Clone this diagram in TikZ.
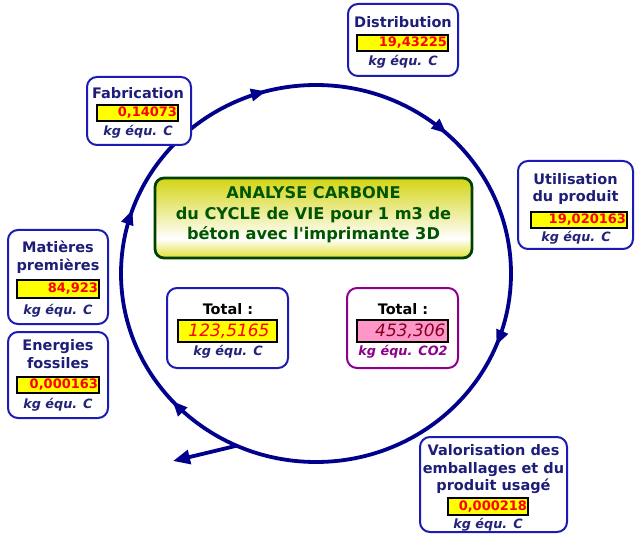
\documentclass[tikz,border=0pt]{standalone}
\usepackage{fontspec}
\setmainfont{DejaVu Sans}
\usetikzlibrary{arrows.meta,decorations.markings,calc}
\definecolor{panelblue}{RGB}{28,28,180}
\definecolor{titlenavy}{RGB}{30,30,120}
\definecolor{circnavy}{RGB}{0,0,140}
\definecolor{kgnavy}{RGB}{35,35,120}
\definecolor{valred}{RGB}{255,0,0}
\definecolor{valyellow}{RGB}{255,255,0}
\definecolor{purp}{RGB}{140,0,140}
\definecolor{pinkfill}{RGB}{255,150,200}
\definecolor{co2red}{RGB}{130,0,30}
\definecolor{dgreen}{RGB}{0,65,0}
\definecolor{tgreen}{RGB}{0,85,0}
\definecolor{ytop}{RGB}{212,212,20}
\definecolor{ybot}{RGB}{225,225,50}
\pgfdeclareverticalshading{cboxshade}{100bp}{color(0bp)=(ybot); color(25bp)=(ybot); color(37bp)=(white); color(75bp)=(ytop); color(100bp)=(ytop)}
\tikzset{
  panel/.style={draw=panelblue, line width=2pt, rounded corners=10pt, fill=white, inner sep=0pt},
  ppanel/.style={panel, draw=purp},
  ptitle/.style={font=\bfseries\fontsize{14.5}{17.5}\selectfont, text=titlenavy, align=center, inner sep=0pt},
  tottitle/.style={font=\bfseries\fontsize{14.5}{16}\selectfont, text=black, inner sep=0pt},
  valbox/.style={draw=black, line width=1.4pt, fill=valyellow, inner sep=0pt},
  pinkbox/.style={valbox, fill=pinkfill},
  valtext/.style={font=\bfseries\fontsize{13}{15}\selectfont, text=valred, inner sep=0pt, anchor=east},
  totval/.style={font=\itshape\fontsize{17}{19}\selectfont, text=valred, inner sep=0pt},
  kg/.style={font=\bfseries\itshape\fontsize{12.8}{15}\selectfont, text=kgnavy, inner sep=0pt},
  circ/.style={draw=circnavy, line width=3.8pt},
}
\begin{document}
\begin{tikzpicture}[x=1pt,y=-1pt]
\useasboundingbox (0,0) rectangle (636,534);
% cycle ellipse
\coordinate (c) at (316,273.5);
\draw[circ, postaction={decorate}, decoration={markings,
  mark=at position 0.061 with {\arrow{Triangle[length=15pt,width=12pt]}},
  mark=at position 0.383 with {\arrow{Triangle[length=15pt,width=12pt]}},
  mark=at position 0.554 with {\arrow{Triangle[length=15pt,width=12pt]}},
  mark=at position 0.708 with {\arrow{Triangle[length=15pt,width=12pt]}},
  mark=at position 0.868 with {\arrow{Triangle[length=15pt,width=12pt]}}}]
  (c) ellipse [x radius=195, y radius=188.5];
\coordinate (j) at ($(c)+(114:195 and 188.5)$);
\coordinate (jt) at (173,461);
\draw[circ, -{Triangle[length=17pt,width=14pt]}] (j) -- (jt);

% central title
\node[draw=dgreen, line width=2.8pt, rounded corners=9pt, shading=cboxshade, minimum width=317pt, minimum height=80pt] (title) at (313.5,218) {};
\node[font=\bfseries\fontsize{16.2}{20.5}\selectfont, text=tgreen, align=center, inner sep=0pt] (titletext) at (313.5,215) {ANALYSE CARBONE\\du CYCLE de VIE pour 1 m3 de\\béton avec l\textquotesingle imprimante 3D};

% Distribution
\node[panel, minimum width=110pt, minimum height=72pt] (dist) at (403,40) {};
\node[ptitle] (distT) at (403,22) {Distribution};
\node[valbox, minimum width=91pt, minimum height=16pt] (distV) at (402.5,43) {};
\node[valtext] (distN) at ([xshift=-1.5pt]distV.east) {19,43225};
\node[kg] (distK) at (403,62) {kg équ. C};

% Fabrication
\node[panel, minimum width=104pt, minimum height=68pt] (fab) at (139,111) {};
\node[ptitle] (fabT) at (138,93) {Fabrication};
\node[valbox, minimum width=81pt, minimum height=16pt] (fabV) at (137.5,113) {};
\node[valtext] (fabN) at ([xshift=-1.5pt]fabV.east) {0,14073};
\node[kg] (fabK) at (138,132) {kg équ. C};

% Utilisation
\node[panel, minimum width=115pt, minimum height=88pt] (util) at (575.5,205) {};
\node[ptitle] (utilT) at (575.5,189) {Utilisation\\du produit};
\node[valbox, minimum width=96pt, minimum height=16pt] (utilV) at (579,220) {};
\node[valtext] (utilN) at ([xshift=-1.5pt]utilV.east) {19,020163};
\node[kg] (utilK) at (576,238) {kg équ. C};

% Matieres premieres
\node[panel, minimum width=100pt, minimum height=94pt] (mat) at (58,277) {};
\node[ptitle] (matT) at (58,257) {Matières\\premières};
\node[valbox, minimum width=82pt, minimum height=18pt] (matV) at (58,289) {};
\node[valtext] (matN) at ([xshift=-1.5pt]matV.east) {84,923};
\node[kg] (matK) at (58,311) {kg équ. C};

% Energies fossiles
\node[panel, minimum width=100pt, minimum height=86pt] (ener) at (58,375) {};
\node[ptitle] (enerT) at (58,354) {Energies\\fossiles};
\node[valbox, minimum width=82pt, minimum height=16pt] (enerV) at (58,385) {};
\node[valtext] (enerN) at ([xshift=-1.5pt]enerV.east) {0,000163};
\node[kg] (enerK) at (58,405) {kg équ. C};

% Valorisation
\node[panel, minimum width=147pt, minimum height=95pt] (valo) at (493.5,484.5) {};
\node[ptitle] (valoT) at (493.5,469.5) {Valorisation des\\emballages et du\\produit usagé};
\node[valbox, minimum width=80pt, minimum height=17pt] (valoV) at (488,506.5) {};
\node[valtext] (valoN) at ([xshift=-1.5pt]valoV.east) {0,000218};
\node[kg] (valoK) at (488,525) {kg équ. C};

% Total C
\node[panel, minimum width=121pt, minimum height=80pt] (totc) at (227.5,328) {};
\node[tottitle] (totcT) at (228,309) {Total :};
\node[valbox, minimum width=99pt, minimum height=22pt] (totcV) at (227.5,331) {};
\node[totval] (totcN) at (229,331) {123,5165};
\node[kg] (totcK) at (228,352) {kg équ. C};

% Total CO2
\node[ppanel, minimum width=111pt, minimum height=80pt] (totco) at (402.5,328) {};
\node[tottitle] (totcoT) at (403,309) {Total :};
\node[pinkbox, minimum width=91pt, minimum height=22pt] (totcoV) at (402.5,331) {};
\node[totval, text=co2red, anchor=east] (totcoN) at ([xshift=-3pt]totcoV.east) {453,306};
\node[kg, text=purp] (totcoK) at (403,352) {kg équ. CO2};
\end{tikzpicture}
\end{document}
